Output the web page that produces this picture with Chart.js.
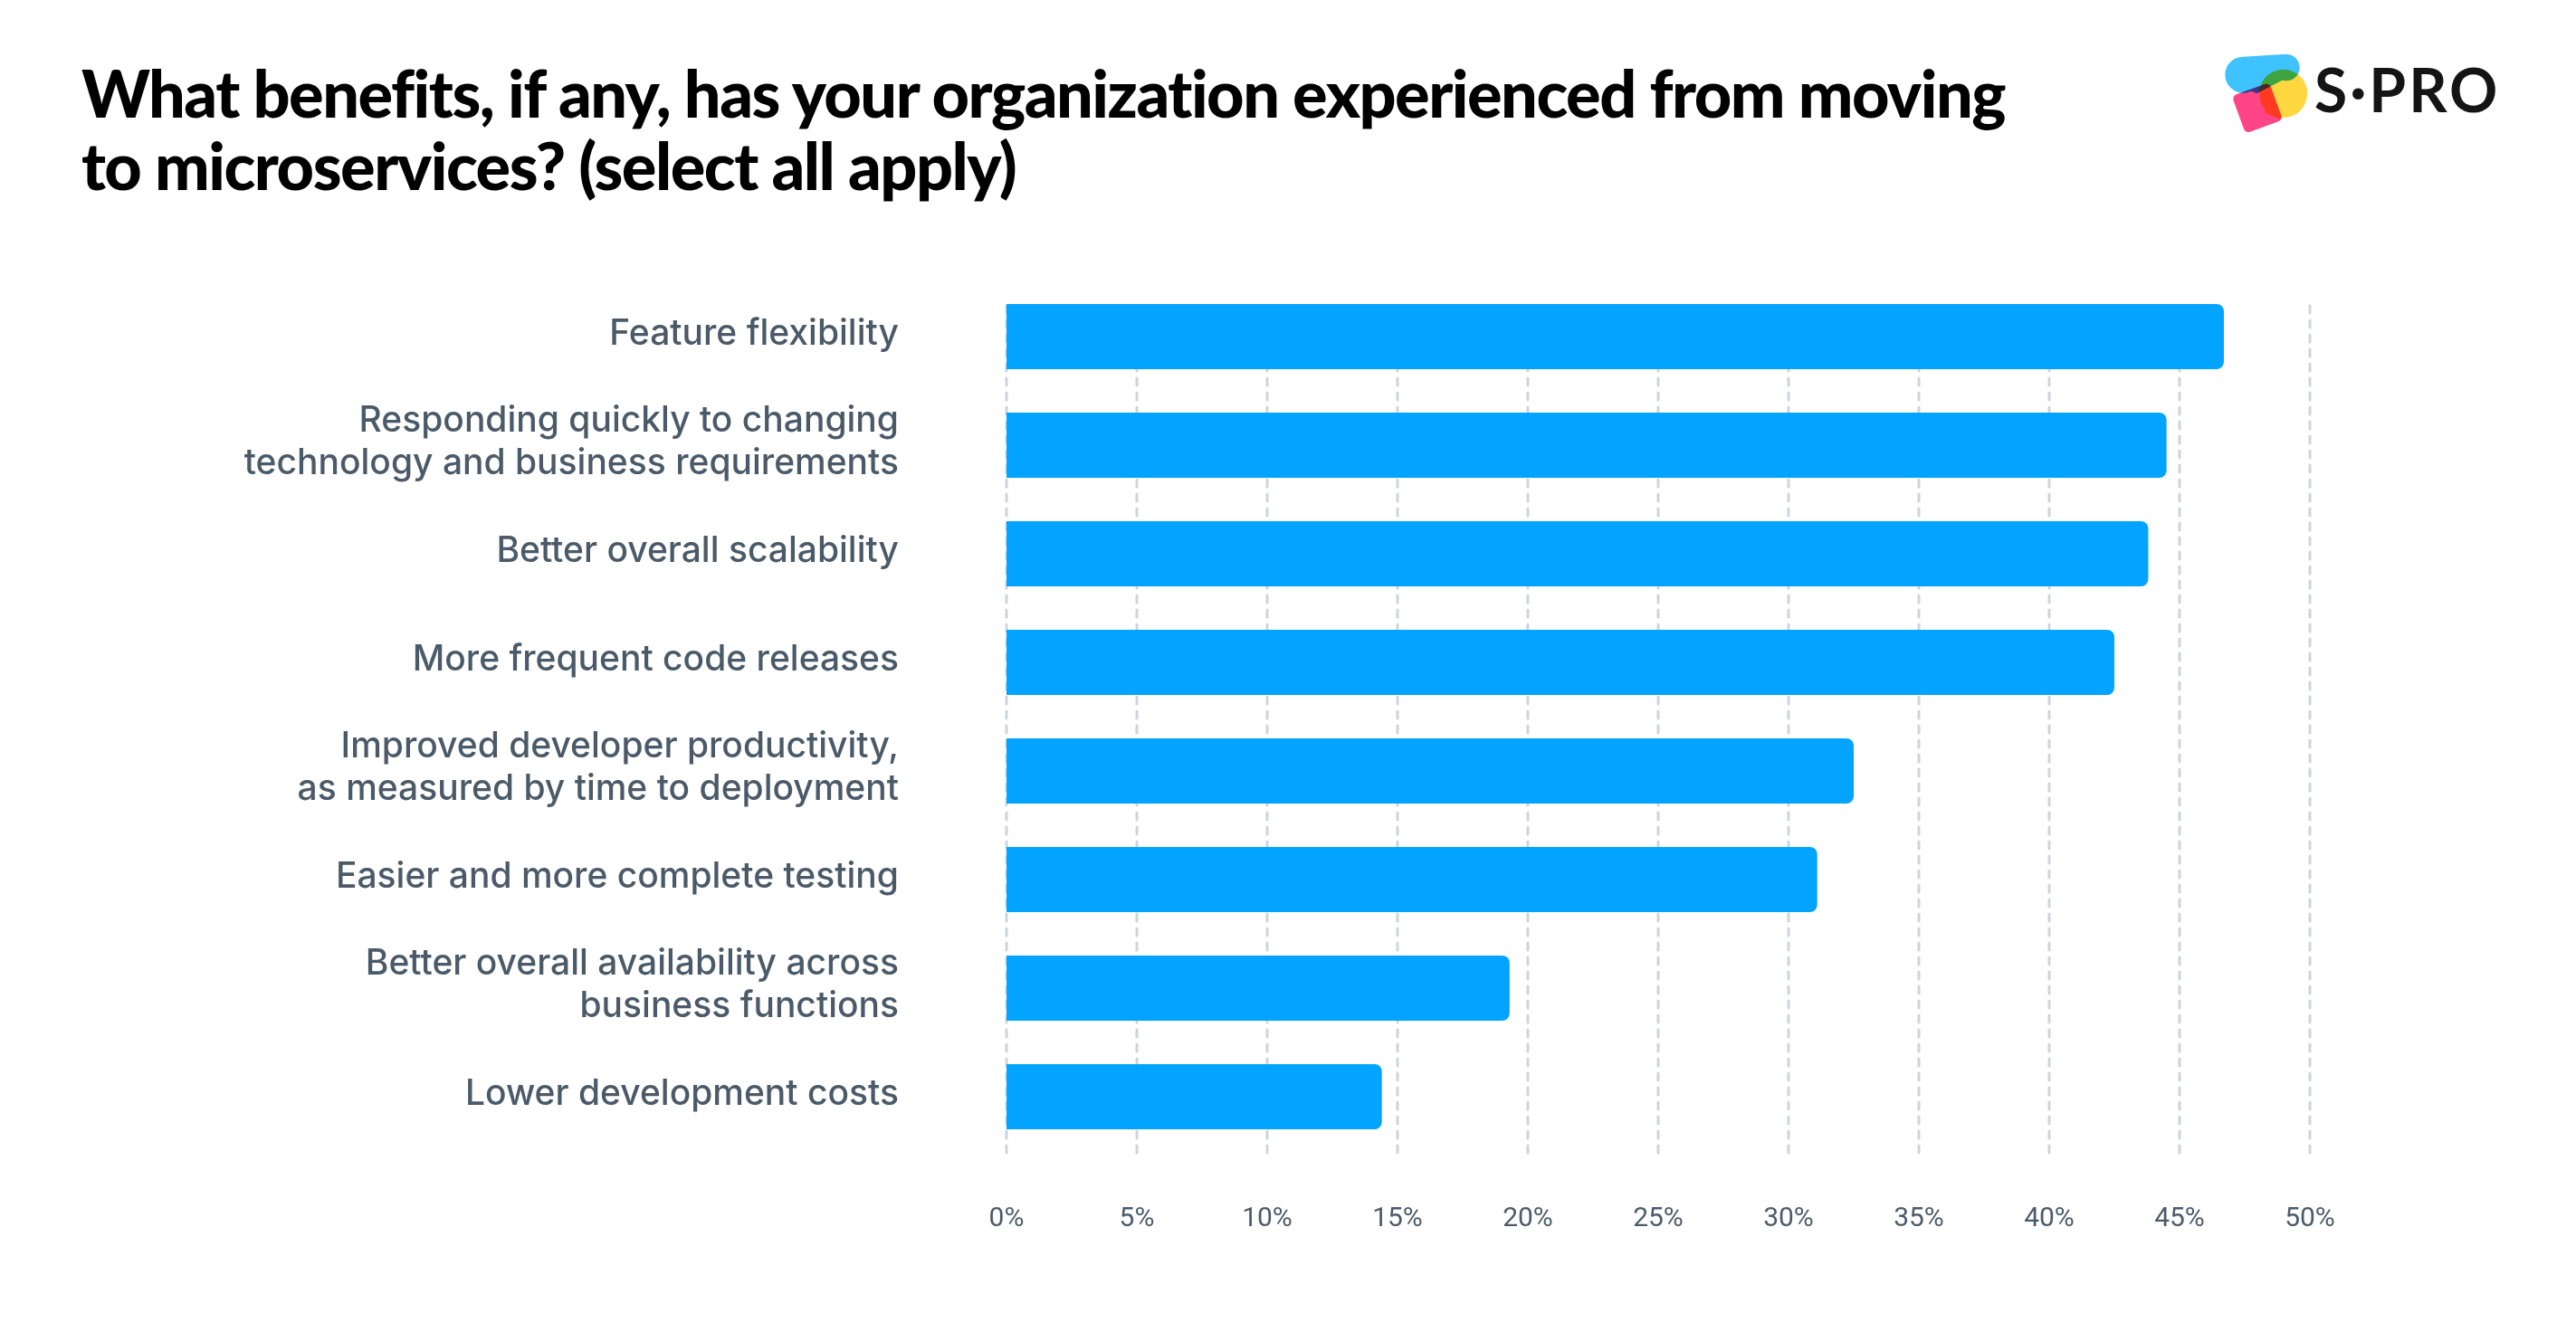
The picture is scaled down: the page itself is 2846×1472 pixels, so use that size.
<!DOCTYPE html>
<html>
<head>
<meta charset="utf-8">
<script src="https://cdn.jsdelivr.net/npm/chart.js@4.4.1/dist/chart.umd.min.js"></script>
<style>
    html, body {
        margin: 0;
        padding: 0;
        background: #ffffff;
    }
    body {
        width: 2846px;
        height: 1472px;
        position: relative;
        overflow: hidden;
    }
    #titulo {
        position: absolute;
        left: 90px;
        top: 62px;
        font-family: "Lato", sans-serif;
        font-weight: 900;
        font-size: 72px;
        line-height: 80px;
        color: #000000;
        letter-spacing: -1.5px;
        white-space: nowrap;
    }
    #logo {
        position: absolute;
        left: 2440px;
        top: 40px;
        width: 360px;
        height: 120px;
    }
    #logo svg {
        position: absolute;
        left: 0;
        top: 0;
        isolation: isolate;
    }
    #logo span {
        position: absolute;
        left: 117px;
        top: 19px;
        font-family: "Lato", sans-serif;
        font-weight: 700;
        font-size: 66px;
        line-height: 80px;
        color: #141414;
        letter-spacing: 3px;
    }
    #wrap {
        position: absolute;
        left: 0;
        top: 0;
        width: 2846px;
        height: 1472px;
    }
</style>
</head>
<body>

<div id="titulo">What benefits, if any, has your organization experienced from moving<br>to microservices? (select all apply)</div>

<div id="logo">
    <svg width="140" height="120" viewBox="0 0 420 360">
        <g style="mix-blend-mode:multiply">
            <circle cx="115" cy="128" r="60" fill="#3ec3ff"/>
            <circle cx="258" cy="104" r="44" fill="#3ec3ff"/>
            <polygon points="115,68 250,60 300,118 160,190 62,150" fill="#3ec3ff"/>
        </g>
        <g style="mix-blend-mode:multiply">
            <circle cx="248" cy="190" r="80" fill="#ffd740"/>
            <polygon points="196,215 244,256 236,276 186,252" fill="#ffd740"/>
        </g>
        <g style="mix-blend-mode:multiply">
            <rect x="96" y="172" width="132" height="132" rx="16" fill="#ff4585" transform="rotate(-20 162 238)"/>
        </g>
    </svg>
    <span>S·PRO</span>
</div>

<div id="wrap"><canvas id="grafico"></canvas></div>

<script>
// dados (porcentagem de respostas)
const categorias = [
    "Feature flexibility",
    ["Responding quickly to changing", "technology and business requirements"],
    "Better overall scalability",
    "More frequent code releases",
    ["Improved developer productivity,", "as measured by time to deployment"],
    "Easier and more complete testing",
    ["Better overall availability across", "business functions"],
    "Lower development costs"
];
const valores = [46.7, 44.5, 43.8, 42.5, 32.5, 31.1, 19.3, 14.4];

const escalaMin = 0;
const escalaMax = 50;
const passo = 5;

// linhas tracejadas do grid, começando no topo da primeira barra
const gridTracejado = {
    id: "gridTracejado",
    beforeDatasetsDraw(chart) {
        const ctx = chart.ctx;
        const x = chart.scales.x;
        const meta = chart.getDatasetMeta(0);
        const primeira = meta.data[0];
        const topo = primeira.y - primeira.height / 2 + 2;
        const fundo = chart.chartArea.bottom + 4;

        ctx.save();
        ctx.strokeStyle = "#cdd5dc";
        ctx.lineWidth = 3;
        ctx.lineCap = "round";
        ctx.setLineDash([8, 8]);
        x.ticks.forEach(t => {
            const px = Math.round(x.getPixelForValue(t.value));
            ctx.beginPath();
            ctx.moveTo(px, topo);
            ctx.lineTo(px, fundo);
            ctx.stroke();
        });
        ctx.restore();
    }
};

const ctx = document.getElementById("grafico");

new Chart(ctx, {
    type: "bar",
    data: {
        labels: categorias,
        datasets: [{
            data: valores,
            backgroundColor: "#02a4ff",
            borderRadius: 8,
            borderSkipped: "start",
            barPercentage: 0.6,
            categoryPercentage: 1
        }]
    },
    options: {
        indexAxis: "y",
        responsive: true,
        maintainAspectRatio: false,
        animation: false,
        layout: {
            padding: { top: 312, right: 294, bottom: 0, left: 0 }
        },
        plugins: {
            legend: { display: false },
            tooltip: { enabled: false }
        },
        scales: {
            x: {
                min: escalaMin,
                max: escalaMax,
                border: { display: false },
                grid: { display: false, drawTicks: false },
                afterFit(scale) { scale.height = 200; },
                ticks: {
                    stepSize: passo,
                    padding: 57,
                    color: "#4b5b69",
                    font: { family: "Roboto", size: 30 },
                    callback: v => v + "%"
                }
            },
            y: {
                border: { display: false },
                grid: { display: false, drawTicks: false },
                afterFit(scale) { scale.width = 1112; },
                ticks: {
                    padding: 119,
                    labelOffset: -3,
                    color: "#4a5a68",
                    font: { family: "Inter", size: 39, weight: "500", lineHeight: 1.2 }
                }
            }
        }
    },
    plugins: [gridTracejado]
});
</script>
</body>
</html>
